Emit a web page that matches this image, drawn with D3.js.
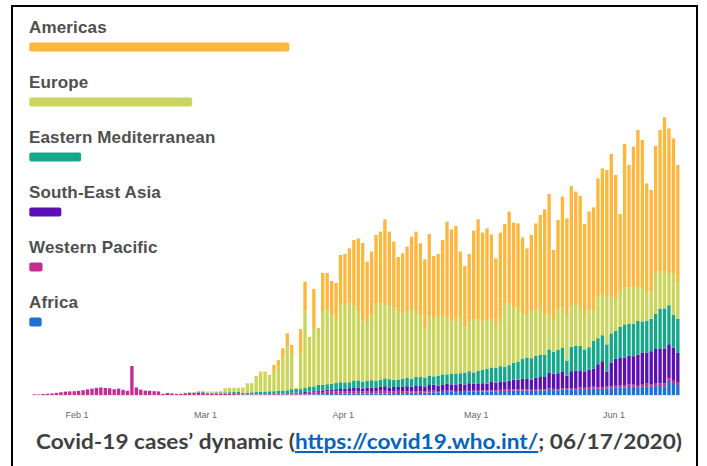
<!DOCTYPE html>
<html><head><meta charset="utf-8">
<script src="https://cdn.jsdelivr.net/npm/d3@7"></script>
<style>
html,body{margin:0;padding:0;background:#fff;}
svg{display:block;}
</style></head>
<body>
<svg id="chart" width="707" height="466"></svg>
<script>
// ---- data ----
const regions = ["Americas", "Europe", "Eastern Mediterranean", "South-East Asia", "Western Pacific", "Africa"];
const regionColors = ["#FDB73C", "#C9D65B", "#15A78A", "#5A10B5", "#C62B8F", "#1C6FD6"];
const regionTotals = [3911000, 2450000, 779000, 482000, 199000, 185000]; // cumulative cases (legend bars)
const startDate = "2020-01-22";
const endDate = "2020-06-16"; // exclusive
const tickLabels = ["Feb 1", "Mar 1", "Apr 1", "May 1", "Jun 1"];
const captionText = ["Covid-19 cases\u2019 dynamic (", "https://covid19.who.int/", "; 06/17/2020)"];

// daily new cases, thousands (Jan 22 .. Jun 15)
const africa = [
0,0,0,0,0,0,0,0,0,0, 0,0,0,0,0,0,0,0,0,0, 0,0,0,0,0,0,0,0,0,0, 0,0,0,0,0,0,0,0,0,
0,0,0,0,0,0,0,0,0,0.01, 0.02,0.03,0.05,0.05,0.08, 0.1,0.1,0.15,0.2,0.2, 0.2,0.25,0.2,0.3,0.3, 0.4,0.4,0.5,0.5,0.5, 0.6,
0.6,0.7,0.6,0.8,0.8, 0.7,0.6,0.8,0.9,0.9, 0.8,0.9,1.0,0.9,1.0, 1.2,1.1,1.0,1.2,1.3, 1.4,1.3,1.5,1.5,1.6, 1.4,1.5,1.5,1.6,1.6,
1.6,1.7,1.8,1.7,1.9, 2.0,2.1,2.0,2.2,2.1, 2.2,2.3,2.1,2.4,2.3, 2.2,2.5,2.4,2.3,2.6, 2.7,2.8,2.6,3.0,2.9, 3.0,3.2,3.1,3.0,3.3, 3.4,
3.6,3.8,3.7,4.0,4.2, 3.9,4.3,4.4,4.2,4.6, 4.5,4.3,7.0,5.5,5.0
];
const westernPacific = [
0.3,0.3,0.5,0.6,0.8,1.0,1.4,1.7,1.8,1.9, 2.1,2.4,2.8,3.2,3.6,3.8,3.5,3.4,2.9,3.2, 2.6,2.1,14.5,3.8,2.7,2.2,2.1,1.9,1.8,0.6, 1.0,0.8,0.5,0.5,0.9,1.0,1.0,1.3,1.2,
0.8,0.7,0.8,0.7,0.6, 0.6,0.5,0.4,0.3,0.3, 0.3,0.3,0.2,0.3,0.3, 0.4,0.4,0.4,0.5,0.6, 0.6,0.7,0.8,0.9,1.0, 1.2,1.1,1.3,1.2,1.3, 1.2,
1.1,1.2,1.3,1.1,1.0, 1.2,1.0,0.9,1.3,1.2, 1.0,0.9,1.1,0.8,0.9, 0.7,0.8,0.9,0.7,0.8, 0.8,0.7,0.6,0.7,0.6, 0.6,0.5,0.6,0.5,0.6,
0.5,0.6,0.5,0.6,0.5, 0.6,0.5,0.7,0.6,0.6, 0.7,0.6,0.5,0.6,0.7, 0.6,0.8,0.7,0.6,0.7, 0.8,0.7,0.9,0.8,0.7, 0.9,1.0,0.8,0.9,1.0, 0.9,
1.0,0.9,1.1,1.2,1.0, 1.1,1.2,1.3,1.2,1.4, 1.3,1.5,1.4,1.6,1.5
];
const southEastAsia = [
0,0,0,0,0,0,0,0,0,0, 0,0,0,0,0,0,0,0,0,0, 0,0,0,0,0,0,0,0,0,0, 0,0,0,0,0,0,0,0,0,
0,0,0,0.01,0.02, 0.01,0.01,0.02,0.03,0.02, 0.03,0.03,0.05,0.05,0.1, 0.1,0.15,0.2,0.25,0.3, 0.4,0.4,0.5,0.5,0.6, 0.7,0.8,0.9,1.0,1.1, 1.2,
1.4,1.5,1.6,1.8,1.5, 1.9,2.0,1.8,2.1,2.3, 2.0,2.2,1.9,2.4,2.5, 2.3,2.6,2.8,2.4,2.9, 3.0,2.7,3.2,3.4,3.1, 3.3,3.6,3.2,3.8,3.5,
3.4,3.6,3.3,4.5,3.8, 4.2,4.0,4.4,4.8,5.0, 5.2,5.4,5.0,5.6,6.0, 6.2,8.0,7.6,8.0,8.2, 6.2,8.4,8.6,8.5,8.2, 8.8,9.0,11.5,13.0,7.5, 12.0,
13.5,13.8,14.0,14.5,14.2, 15.2,15.8,15.5,16.5,17.0, 17.2,17.5,17.0,16.5,14.5
];
const easternMediterranean = [
0,0,0,0,0,0,0,0,0,0, 0,0,0,0,0,0,0,0,0,0, 0,0,0,0,0,0,0,0,0,0.01, 0.02,0.03,0.05,0.1,0.1,0.15,0.2,0.25,0.35,
0.4,0.5,0.5,0.6,0.7, 0.8,1.0,1.1,0.7,0.9, 1.0,1.1,1.2,1.3,1.4, 1.3,1.4,1.5,1.4,1.8, 1.9,1.6,2.0,2.3,2.4, 2.8,2.9,2.7,2.9,3.2, 3.4,
3.2,3.0,3.5,3.6,3.3, 3.4,3.8,3.5,3.2,3.9, 4.1,3.6,3.8,4.0,4.3, 3.9,4.5,4.4,4.2,4.6, 4.1,4.8,5.0,4.7,5.2, 5.5,5.3,5.8,6.0,5.6,
6.5,6.8,7.5,7.0,7.3, 7.6,7.5,7.8,8.5,9.0, 10.0,10.5,10.8,11.0,11.2, 11.0,11.5,11.0,11.8,12.0, 7.5,12.2,12.5,12.3,11.0, 11.2,14.0,13.0,13.0,13.5, 14.5,
14.0,15.5,16.5,16.0,16.2, 16.8,15.5,16.0,16.2,17.5, 20.0,20.0,19.5,16.5,17.0
];
const europe = [
0,0,0,0,0,0,0,0,0,0, 0,0,0,0,0,0,0,0,0,0, 0,0,0,0,0,0,0,0,0,0, 0,0,0.05,0.1,0.2,0.3,0.35,0.45,0.5,
0.5,0.5,0.5,0.6,2.0, 2.1,2.0,2.0,2.5,4.3, 4.1,7.6,9.7,9.4,7.4, 10.6,12.1,16.9,21.8,17.1, 0.3,18.0,38.2,24.0,29.2, 27.4,36.8,37.3,34.4,31.6, 39.1,
38.7,39.6,38.0,34.7,31.4, 28.8,32.6,38.5,38.5,37.2, 37.1,36.4,34.2,32.9,33.3, 34.9,33.0,30.9,25.0,30.4, 29.7,30.5,29.7,28.7,26.2, 27.2,28.1,22.7,25.1,26.2,
26.0,24.3,24.4,24.2,21.5, 23.6,30.9,31.1,27.9,26.3, 22.9,21.2,23.6,23.4,22.3, 20.0,17.7,15.3,20.3,21.0, 22.8,20.9,20.9,19.4,16.2, 19.1,15.3,21.1,20.1,23.7, 18.7,
15.9,17.0,18.7,18.3,18.9, 17.0,16.7,14.8,13.4,20.5, 19.0,18.7,16.1,20.9,18.5
];
const americas = [
0,0,0,0,0,0,0,0,0,0, 0,0,0,0,0,0,0,0,0,0, 0,0,0,0,0,0,0,0,0,0, 0,0,0,0,0,0,0.01,0.01,0.02,
0,0.02,0.03,0.04,0.08, 0.1,0.1,0.15,0.2,0.3, 0.4,0.45,0.5,0.6,0.7, 2.5,3.3,4.2,6.7,5.0, 0.1,12.0,15.0,1.0,19.5, 1.0,19.0,18.3,17.0,18.3, 24.5,
25.5,27.3,32.5,36.3,38.0, 30.7,31.7,34.5,35.7,42.3, 36.7,32.7,27.0,29.8,32.2, 36.2,39.7,35.8,34.3,40.5, 30.5,30.5,37.5,47.7,46.1, 46.5,32.7,30.7,33.5,44.7,
49.8,44.2,45.8,42.3,33.3, 43.2,40.5,45.7,42.2,42.8, 37.8,33.3,38.0,42.8,47.5, 52.8,60.0,35.5,44.5,54.7, 48.3,59.5,56.2,55.5,46.5, 48.7,51.3,58.8,63.3,63.5, 71.0,
62.0,39.5,71.5,61.0,69.7, 78.5,74.0,53.8,51.0,63.5, 70.5,76.8,72.3,67.3,58.5
];

// ---- build ----
const svg = d3.select("#chart");
const parse = d3.timeParse("%Y-%m-%d");
const dates = d3.timeDay.range(parse(startDate), parse(endDate));
const seriesArrays = {africa, westernPacific, southEastAsia, easternMediterranean, europe, americas};
const keys = ["africa", "westernPacific", "southEastAsia", "easternMediterranean", "europe", "americas"];
const keyColor = {
  americas: regionColors[0], europe: regionColors[1], easternMediterranean: regionColors[2],
  southEastAsia: regionColors[3], westernPacific: regionColors[4], africa: regionColors[5]
};
const n = d3.min(keys, k => seriesArrays[k].length);
const table = dates.slice(0, n).map((d, i) => {
  const row = {date: d};
  keys.forEach(k => row[k] = seriesArrays[k][i] * 1000);
  return row;
});

const x = d3.scaleTime().domain([parse(startDate), parse(endDate)]).range([32, 680]);
const y = d3.scaleLinear().domain([0, 140000]).range([395, 115]);

const stacked = d3.stack().keys(keys)(table);

// frame
svg.append("path")
  .attr("d", "M12,470 L12,6 L697,6 L697,470")
  .attr("fill", "none").attr("stroke", "#000").attr("stroke-width", 2);

// baseline
svg.append("line").attr("x1", x.range()[0]).attr("x2", x.range()[1])
  .attr("y1", y(0) + 0.5).attr("y2", y(0) + 0.5)
  .attr("stroke", "#e6e6e6").attr("stroke-width", 1);

// bars
svg.append("g").selectAll("g").data(stacked).join("g")
  .attr("fill", s => keyColor[s.key])
  .selectAll("rect").data(s => s).join("rect")
  .attr("x", d => x(d.data.date) + 0.6)
  .attr("width", d => x(d3.timeDay.offset(d.data.date, 1)) - x(d.data.date) - 1.1)
  .attr("y", d => y(d[1]))
  .attr("height", d => Math.max(0, y(d[0]) - y(d[1])));

// axis
const tickDates = tickLabels.map(t => d3.timeParse("%b %d %Y")(t + " 2020"));
const axis = svg.append("g").attr("transform", `translate(0,${y(0)})`)
  .call(d3.axisBottom(x).tickValues(tickDates).tickFormat((d, i) => tickLabels[i]).tickSize(0).tickPadding(17));
axis.select(".domain").remove();
axis.selectAll("text").attr("fill", "#666").attr("font-size", 9)
  .attr("font-family", "'Liberation Sans', Arial, sans-serif");

// legend
const legendScale = d3.scaleLinear().domain([0, d3.max(regionTotals)]).range([0, 260]);
const lg = svg.append("g");
regions.forEach((r, i) => {
  const by = 32.7 + i * 55;
  lg.append("text").attr("x", 29).attr("y", by)
    .attr("font-family", "'Liberation Sans', Arial, Helvetica, sans-serif")
    .attr("font-weight", "bold").attr("font-size", 17).attr("letter-spacing", 0.15)
    .attr("fill", "#4f4f4f").text(r);
  lg.append("rect").attr("x", 29.3).attr("y", by + 9.8)
    .attr("width", legendScale(regionTotals[i])).attr("height", 9)
    .attr("rx", 2).attr("fill", regionColors[i]);
});

// caption
const cap = svg.append("text").attr("x", 359).attr("y", 449)
  .attr("text-anchor", "middle")
  .attr("font-family", "Lato, 'Open Sans', 'Liberation Sans', Arial, sans-serif")
  .attr("font-weight", "bold").attr("font-size", 21)
  .attr("textLength", 646).attr("lengthAdjust", "spacingAndGlyphs")
  .attr("fill", "#3f3f3f");
cap.append("tspan").text(captionText[0]);
cap.append("tspan").attr("fill", "#0563C1").attr("text-decoration", "underline").text(captionText[1]);
cap.append("tspan").text(captionText[2]);

if (keys.some(k => seriesArrays[k].length !== dates.length)) {
  svg.append("text").attr("x", 300).attr("y", 60).attr("fill", "red").attr("font-size", 10)
    .text("len " + keys.map(k => seriesArrays[k].length).join(",") + " / " + dates.length);
}
</script>
</body></html>
